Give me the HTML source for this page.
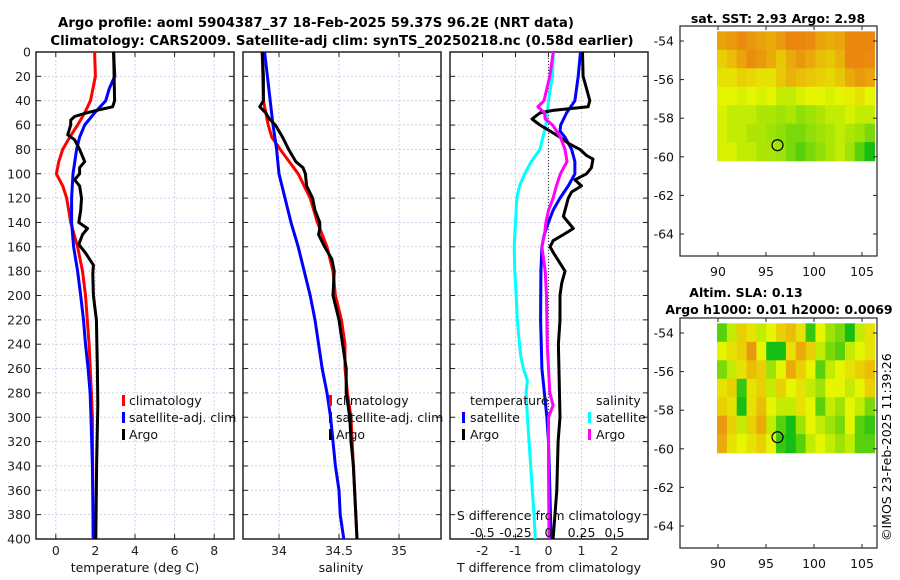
<!DOCTYPE html>
<html><head><meta charset="utf-8">
<style>
html,body{margin:0;padding:0;background:#fff;}
svg{display:block;font-family:"DejaVu Sans","Liberation Sans",sans-serif;}
</style></head>
<body>
<svg id="c" width="900" height="580" viewBox="0 0 900 580">
<text x="316" y="27" text-anchor="middle" font-size="13.3" font-weight="bold">Argo profile: aoml 5904387_37 18-Feb-2025 59.37S 96.2E (NRT data)</text>
<text x="342" y="45" text-anchor="middle" font-size="13.3" font-weight="bold">Climatology: CARS2009. Satellite-adj clim: synTS_20250218.nc (0.58d earlier)</text>
<g id="plots"></g>
<text x="778" y="23" text-anchor="middle" font-size="12.5" font-weight="bold">sat. SST: 2.93 Argo: 2.98</text>
<text x="746" y="297" text-anchor="middle" font-size="12.5" font-weight="bold">Altim. SLA: 0.13</text>
<text x="779" y="314" text-anchor="middle" font-size="12.5" font-weight="bold">Argo h1000: 0.01 h2000: 0.0069</text>
<text transform="translate(891,541) rotate(-90)" font-size="12.5">©IMOS 23-Feb-2025 11:39:26</text>
</svg>
<script>
// ---------- data ----------
const depthTicks=[0,20,40,60,80,100,120,140,160,180,200,220,240,260,280,300,320,340,360,380,400];
const tTicks=[0,2,4,6,8];
const sTicks=[34,34.5,35];
const sTickLabels=["34","34.5","35"];
const dTicks=[-2,-1,0,1,2];
const dsTicks=[-0.5,-0.25,0,0.25,0.5];
const dsTickLabels=["-0.5","-0.25","0","0.25","0.5"];

const tClimDepth=[0,20,40,50,60,70,80,90,100,110,120,140,160,180,200,240,280,300,400];
const tClimVal=[1.96,2.0,1.75,1.46,1.1,0.7,0.35,0.15,0.03,0.35,0.55,0.75,1.1,1.35,1.5,1.68,1.8,1.85,1.88];
const tSatDepth=[0,20,30,40,50,60,70,80,100,120,140,160,180,200,220,240,260,280,300,340,400];
const tSatVal=[2.92,2.98,2.7,2.52,1.96,1.46,1.2,1.05,0.87,0.8,0.8,0.9,1.1,1.26,1.4,1.5,1.63,1.73,1.78,1.85,1.91];
const tArgoDepth=[0,40,45,48,50,53,56,60,68,72,80,90,95,100,105,110,120,130,140,145,150,158,165,175,182,200,220,260,290,340,400];
const tArgoVal=[2.92,2.97,2.87,2.05,1.55,0.95,0.75,0.75,0.6,0.95,1.2,1.46,1.2,1.2,0.95,1.2,1.3,1.26,1.16,1.6,1.35,1.16,1.5,1.9,1.87,1.9,2.05,2.1,2.12,2.06,2.02];

const sClimDepth=[0,40,60,70,80,100,120,140,160,180,200,220,240,260,280,300,400];
const sClimVal=[33.86,33.87,33.91,33.94,34.01,34.16,34.26,34.32,34.4,34.45,34.47,34.52,34.55,34.55,34.57,34.6,34.65];
const sSatDepth=[0,60,80,100,120,140,160,180,200,220,240,260,280,300,320,340,360,380,400];
const sSatVal=[33.88,33.95,33.98,34.0,34.05,34.1,34.16,34.21,34.26,34.3,34.33,34.36,34.4,34.43,34.45,34.47,34.5,34.51,34.54];
const sArgoDepth=[0,20,40,45,50,55,60,70,80,90,95,100,110,120,130,140,145,150,160,170,180,200,220,240,260,280,300,320,340,360,380,400];
const sArgoVal=[33.86,33.87,33.87,33.84,33.89,33.92,33.97,34.03,34.08,34.14,34.2,34.22,34.23,34.28,34.3,34.34,34.34,34.33,34.38,34.44,34.46,34.45,34.5,34.53,34.56,34.56,34.59,34.6,34.62,34.63,34.64,34.65];

const dtSatDepth=[0,20,40,50,60,65,70,80,90,100,110,120,130,140,150,160,180,220,260,300,320,340,400];
const dtSatVal=[0.97,0.9,0.8,0.55,0.37,0.35,0.5,0.7,0.8,0.8,0.6,0.35,0.14,0,-0.13,-0.2,-0.23,-0.24,-0.2,-0.05,0,0.02,0.08];
const dtArgoDepth=[0,20,30,40,45,48,50,55,60,65,70,75,80,85,88,95,100,105,110,115,120,130,135,145,150,155,160,165,180,190,200,220,240,300,320,360,400];
const dtArgoVal=[1.03,1.05,1.15,1.25,1.2,0.14,-0.26,-0.5,-0.26,0.05,0.35,0.6,0.95,1.15,1.35,1.3,1.15,0.8,1.0,0.7,0.6,0.5,0.45,0.75,0.45,0.14,0.05,0.15,0.5,0.4,0.35,0.35,0.3,0.35,0.29,0.25,0.14];
const dsSatDepth=[0,20,40,60,80,90,100,110,120,140,160,180,200,220,240,250,260,270,280,300,340,380,400];
const dsSatVal=[0.036,0.03,0,-0.02,-0.065,-0.13,-0.18,-0.22,-0.24,-0.25,-0.26,-0.255,-0.245,-0.236,-0.22,-0.21,-0.19,-0.16,-0.17,-0.16,-0.135,-0.11,-0.1];
const dsArgoDepth=[0,20,40,45,50,55,60,70,80,90,100,110,120,130,140,150,160,180,200,240,260,280,290,300,340,400];
const dsArgoVal=[0.036,0.01,-0.034,-0.08,-0.03,-0.025,0.03,0.09,0.125,0.14,0.09,0.06,0.035,0,-0.02,-0.03,-0.05,-0.025,-0.015,-0.01,0,0.01,0.035,0,0,0.004];

const lonTicks=[90,95,100,105];
const latTicks=[-54,-56,-58,-60,-62,-64];
const sstGrid=[
[.72,.75,.78,.75,.72,.7,.75,.82,.85,.78,.72,.7,.72,.8,.82,.8],
[.6,.65,.72,.78,.75,.7,.62,.7,.75,.7,.65,.62,.68,.8,.82,.78],
[.55,.55,.6,.58,.55,.55,.62,.68,.65,.62,.6,.58,.62,.7,.75,.72],
[.5,.5,.48,.5,.48,.5,.45,.45,.48,.5,.5,.48,.5,.52,.55,.5],
[.48,.45,.45,.45,.42,.42,.4,.42,.38,.4,.42,.45,.45,.48,.45,.45],
[.48,.45,.45,.42,.42,.4,.38,.35,.35,.38,.4,.42,.45,.42,.4,.35],
[.48,.48,.45,.45,.42,.42,.4,.35,.3,.35,.38,.42,.45,.4,.3,.2]];
const slaGrid=[
[.3,.45,.6,.55,.45,.5,.6,.65,.55,.25,.5,.4,.35,.2,.45,.55],
[.5,.55,.6,.75,.5,.15,.2,.55,.7,.6,.45,.35,.3,.45,.5,.55],
[.35,.45,.55,.65,.6,.4,.5,.7,.6,.5,.3,.45,.5,.55,.6,.65],
[.55,.6,.25,.55,.6,.45,.6,.5,.55,.45,.4,.5,.5,.45,.5,.6],
[.6,.55,.2,.55,.65,.5,.45,.45,.55,.5,.3,.45,.4,.5,.45,.35],
[.75,.6,.45,.6,.7,.45,.3,.2,.4,.5,.45,.4,.35,.5,.3,.25],
[.7,.55,.5,.55,.6,.5,.25,.15,.3,.45,.5,.45,.4,.45,.3,.3]];
const gridLon0=89.9, gridLon1=106.3, gridLat0=-53.5, gridLat1=-60.2;
const argoLon=96.2, argoLat=-59.4;

// ---------- drawing ----------
const NS="http://www.w3.org/2000/svg";
const root=document.getElementById('plots');
function mk(tag,attrs,parent){const e=document.createElementNS(NS,tag);for(const k in attrs)e.setAttribute(k,attrs[k]);(parent||root).appendChild(e);return e;}
const Y0=52,Y1=539;
function yD(d){return Y0+(d/400)*(Y1-Y0);}
function scale(d0,d1,p0,p1){return v=>p0+(v-d0)/(d1-d0)*(p1-p0);}
const gridCol="#cdd1ea";

function panel(name,x0,x1,xs,ticks,labels,showY){
  const g=mk('g',{});
  
  
  depthTicks.forEach(d=>{
    mk('line',{x1:x0,x2:x1,y1:yD(d),y2:yD(d),stroke:gridCol,'stroke-dasharray':'2,2','stroke-width':1},g);
    mk('line',{x1:x0,x2:x0+5,y1:yD(d),y2:yD(d),stroke:'#222'},g);
    mk('line',{x1:x1-5,x2:x1,y1:yD(d),y2:yD(d),stroke:'#222'},g);
    if(showY){const t=mk('text',{x:31,y:yD(d)+4.5,'text-anchor':'end','font-size':12.5,fill:'#222'},g);t.textContent=d;
      
      }
  });
  ticks.forEach((v,i)=>{
    const x=xs(v);
    mk('line',{x1:x,x2:x,y1:Y0,y2:Y1,stroke:gridCol,'stroke-dasharray':'2,2','stroke-width':1},g);
    mk('line',{x1:x,x2:x,y1:Y1-5,y2:Y1,stroke:'#222'},g);
    mk('line',{x1:x,x2:x,y1:Y0,y2:Y0+5,stroke:'#222'},g);
    const t=mk('text',{x:x,y:555,'text-anchor':'middle','font-size':12.5,fill:'#222'},g);t.textContent=labels[i];
    
    
  });
  mk('rect',{x:x0,y:Y0,width:x1-x0,height:Y1-Y0,fill:'none',stroke:'#222','stroke-width':1.5},g);
  return g;
}
function line(g,xs,depths,vals,color,name){
  const pts=depths.map((d,i)=>xs(vals[i]).toFixed(1)+','+yD(d).toFixed(1)).join(' ');
  const p=mk('polyline',{points:pts,fill:'none',stroke:color,'stroke-width':3,'stroke-linejoin':'round'},g);
  
  
}
function txt(g,x,y,s,name,anchor,size){const t=mk('text',{x:x,y:y,'font-size':size||12.5,fill:'#111','text-anchor':anchor||'start'},g);t.textContent=s;
  
  return t;}
function legMark(g,x,y,color){mk('rect',{x:x,y:y-10,width:3,height:11,fill:color},g);}

// panel 1 temperature
const xT=scale(-1,9,36,234);
const g1=panel('temperature-panel',36,234,xT,tTicks,tTicks.map(String),true);
line(g1,xT,tClimDepth,tClimVal,'#f00','temp-climatology-line');
line(g1,xT,tSatDepth,tSatVal,'#00f','temp-satellite-line');
line(g1,xT,tArgoDepth,tArgoVal,'#000','temp-argo-line');
txt(g1,135,572,'temperature (deg C)','x-axis-title','middle');
legMark(g1,122,405,'#f00');txt(g1,129,405,'climatology','legend-climatology');
legMark(g1,122,422,'#00f');txt(g1,129,422,'satellite-adj. clim','legend-satellite');
legMark(g1,122,439,'#000');txt(g1,129,439,'Argo','legend-argo');

// panel 2 salinity
const xS=scale(33.7,35.35,243,441);
const g2=panel('salinity-panel',243,441,xS,sTicks,sTickLabels,false);
line(g2,xS,sClimDepth,sClimVal,'#f00','sal-climatology-line');
line(g2,xS,sSatDepth,sSatVal,'#00f','sal-satellite-line');
line(g2,xS,sArgoDepth,sArgoVal,'#000','sal-argo-line');
txt(g2,341,572,'salinity','x-axis-title','middle');
legMark(g2,329,405,'#f00');txt(g2,336,405,'climatology','legend-climatology');
legMark(g2,329,422,'#00f');txt(g2,336,422,'satellite-adj. clim','legend-satellite');
legMark(g2,329,439,'#000');txt(g2,336,439,'Argo','legend-argo');

// panel 3 differences
const xD=scale(-3,3,449.5,647.5);
const xDS=v=>xD(v*4);
const g3=panel('difference-panel',450,648,xD,dTicks,dTicks.map(String),false);
mk('line',{x1:xD(0),x2:xD(0),y1:Y0,y2:Y1,stroke:'#444','stroke-dasharray':'1,2','stroke-width':1.2},g3);
line(g3,xDS,dsSatDepth,dsSatVal,'#0ff','sdiff-satellite-line');
line(g3,xD,dtSatDepth,dtSatVal,'#00f','tdiff-satellite-line');
line(g3,xD,dtArgoDepth,dtArgoVal,'#000','tdiff-argo-line');
line(g3,xDS,dsArgoDepth,dsArgoVal,'#f0f','sdiff-argo-line');
txt(g3,549,572,'T difference from climatology','x-axis-title','middle');
txt(g3,549,520,'S difference from climatology','s-axis-title','middle');
dsTicks.forEach((v,i)=>txt(g3,xDS(v),537,dsTickLabels[i],'s-tick-label','middle'));
txt(g3,470,405,'temperature','legend-temperature-header');
legMark(g3,462,422,'#00f');txt(g3,470,422,'satellite','legend-t-satellite');
legMark(g3,462,439,'#000');txt(g3,470,439,'Argo','legend-t-argo');
txt(g3,596,405,'salinity','legend-salinity-header');
legMark(g3,588,422,'#0ff');txt(g3,596,422,'satellite','legend-s-satellite');
legMark(g3,588,439,'#f0f');txt(g3,596,439,'Argo','legend-s-argo');

// maps
function cmap(v){
  v=Math.max(0,Math.min(1,0.5+(v-0.5)*1.7));
  let r,g,b;
  if(v<0.5){const t=v/0.5;r=Math.round(20+t*210);g=Math.round(190+t*55);b=Math.round(20-t*20);}
  else{const t=(v-0.5)/0.5;r=Math.round(230+t*5);g=Math.round(245-t*110);b=Math.round(t*15);}
  return `rgb(${r},${g},${b})`;
}
function map(name,top,grid){
  const fx0=680,fx1=877,fy0=top,fy1=top+230;
  const xL=scale(90,105,718,862);
  const yL=scale(-54,-64,top+15,top+208);
  const g=mk('g',{});
  
  
  const rows=grid.length,cols=grid[0].length;
  const cx0=xL(gridLon0),cx1=Math.min(xL(gridLon1),fx1),cy0=Math.max(yL(gridLat0),fy0),cy1=yL(gridLat1);
  const cw=(cx1-cx0)/cols,ch=(cy1-cy0)/rows;
  grid.forEach((row,r)=>row.forEach((v,c)=>{
    const cell=mk('rect',{x:(cx0+c*cw).toFixed(2),y:(cy0+r*ch).toFixed(2),width:(cw+0.6).toFixed(2),height:(ch+0.6).toFixed(2),fill:cmap(v)},g);
    
    
  }));
  const c=mk('circle',{cx:xL(argoLon),cy:yL(argoLat),r:5.5,fill:'none',stroke:'#000','stroke-width':1.2},g);
  
  
  mk('rect',{x:fx0,y:fy0,width:fx1-fx0,height:fy1-fy0,fill:'none',stroke:'#222','stroke-width':1.2},g);
  lonTicks.forEach(v=>{const x=xL(v);mk('line',{x1:x,x2:x,y1:fy1-4,y2:fy1,stroke:'#222'},g);mk('line',{x1:x,x2:x,y1:fy0,y2:fy0+4,stroke:'#222'},g);
    txt(g,x,fy1+20,String(v),'lon-tick-label','middle');});
  latTicks.forEach(v=>{const y=yL(v);mk('line',{x1:fx0,x2:fx0+4,y1:y,y2:y,stroke:'#222'},g);mk('line',{x1:fx1-4,x2:fx1,y1:y,y2:y,stroke:'#222'},g);
    txt(g,674,y+4.5,String(v),'lat-tick-label','end');});
}
map('sst-map',26,sstGrid);
map('sla-map',318,slaGrid);
</script>
</body></html>
